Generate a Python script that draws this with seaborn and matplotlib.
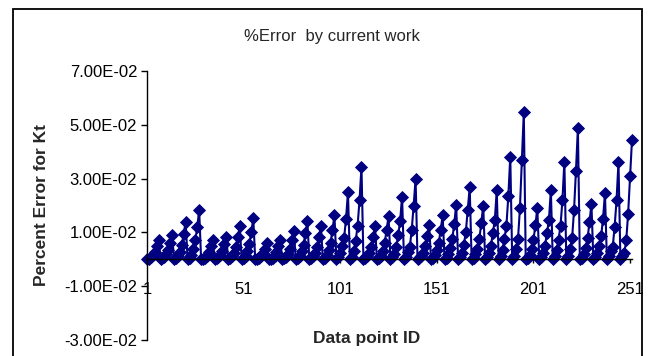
import matplotlib
matplotlib.use("Agg")
import matplotlib.pyplot as plt
import seaborn as sns
import numpy as np
import pandas as pd
from matplotlib.patches import Rectangle

# Percent error values, 36 cycles of 7 data points each
cycle_values = [
    [0, 0.0002, 0.0007, 0.0015, 0.0028, 0.0049, 0.0073],
    [0, 0.0003, 0.0008, 0.0018, 0.0034, 0.0060, 0.0090],
    [0, 0.0004, 0.0013, 0.0028, 0.0053, 0.0094, 0.0140],
    [0, 0.0005, 0.0016, 0.0037, 0.0070, 0.0120, 0.0183],
    [0, 0.0002, 0.0006, 0.0014, 0.0027, 0.0048, 0.0071],
    [0, 0.0003, 0.0008, 0.0017, 0.0032, 0.0056, 0.0084],
    [0, 0.0004, 0.0011, 0.0024, 0.0046, 0.0082, 0.0122],
    [0, 0.0005, 0.0014, 0.0030, 0.0058, 0.0102, 0.0152],
    [0, 0.0002, 0.0005, 0.0012, 0.0022, 0.0040, 0.0059],
    [0, 0.0002, 0.0006, 0.0014, 0.0027, 0.0048, 0.0071],
    [0, 0.0003, 0.0009, 0.0021, 0.0040, 0.0070, 0.0104],
    [0, 0.0004, 0.0013, 0.0029, 0.0054, 0.0096, 0.0143],
    [0, 0.0004, 0.0011, 0.0024, 0.0046, 0.0082, 0.0122],
    [0, 0.0005, 0.0015, 0.0033, 0.0062, 0.0110, 0.0164],
    [0, 0.0008, 0.0023, 0.0050, 0.0080, 0.0150, 0.0250],
    [0, 0.0010, 0.0031, 0.0069, 0.0125, 0.0222, 0.0343],
    [0, 0.0004, 0.0011, 0.0024, 0.0046, 0.0082, 0.0122],
    [0, 0.0005, 0.0014, 0.0032, 0.0061, 0.0108, 0.0161],
    [0, 0.0007, 0.0021, 0.0047, 0.0089, 0.0143, 0.0233],
    [0, 0.0009, 0.0027, 0.0044, 0.0110, 0.0200, 0.0298],
    [0, 0.0004, 0.0011, 0.0025, 0.0048, 0.0085, 0.0127],
    [0, 0.0005, 0.0015, 0.0033, 0.0062, 0.0109, 0.0163],
    [0, 0.0006, 0.0018, 0.0041, 0.0077, 0.0130, 0.0203],
    [0, 0.0008, 0.0024, 0.0054, 0.0102, 0.0185, 0.0268],
    [0, 0.0006, 0.0018, 0.0040, 0.0076, 0.0134, 0.0200],
    [0, 0.0008, 0.0023, 0.0051, 0.0098, 0.0145, 0.0257],
    [0, 0.0011, 0.0034, 0.0076, 0.0125, 0.0235, 0.0381],
    [0, 0.0014, 0.0040, 0.0075, 0.0190, 0.0370, 0.0546],
    [0, 0.0006, 0.0017, 0.0038, 0.0072, 0.0127, 0.0190],
    [0, 0.0008, 0.0023, 0.0051, 0.0098, 0.0145, 0.0257],
    [0, 0.0011, 0.0033, 0.0073, 0.0125, 0.0220, 0.0363],
    [0, 0.0013, 0.0040, 0.0078, 0.0183, 0.0330, 0.0488],
    [0, 0.0006, 0.0019, 0.0041, 0.0078, 0.0138, 0.0206],
    [0, 0.0007, 0.0022, 0.0049, 0.0085, 0.0150, 0.0246],
    [0, 0.0011, 0.0032, 0.0045, 0.0120, 0.0220, 0.0361],
    [0, 0.0013, 0.0022, 0.0070, 0.0170, 0.0310, 0.0445],
]
x_ticks = [1, 51, 101, 151, 201, 251]
y_ticks = [-0.03, -0.01, 0.01, 0.03, 0.05, 0.07]

title_text = "%Error  by current work"
x_label = "Data point ID"
y_label = "Percent Error for Kt"

errors = [v for row in cycle_values for v in row]
ids = list(range(1, len(errors) + 1))
df = pd.DataFrame({"id": ids, "err": errors})

sns.set_style("white")
plt.rcParams["font.family"] = ["Liberation Sans", "DejaVu Sans"]

W, H = 649, 356
fig = plt.figure(figsize=(W / 100, H / 100), dpi=100)
ax = fig.add_axes([147 / W, (H - 340) / H, (632 - 147) / W, (340 - 71) / H])

sns.lineplot(data=df, x="id", y="err", ax=ax, color="#000080",
             marker="D", markersize=5.8, markeredgecolor="#000080",
             markeredgewidth=0.6, linewidth=1.5, clip_on=False)

ax.set_xlim(1, 252)
ax.set_ylim(-0.03, 0.07)
ax.set_xticks(x_ticks)
ax.set_xticklabels([str(t) for t in x_ticks])
ax.set_yticks(y_ticks)
ax.set_yticklabels([f"{t:.2E}" for t in y_ticks])

for s in ["top", "right"]:
    ax.spines[s].set_visible(False)
ax.spines["bottom"].set_position(("data", 0))
ax.spines["left"].set_color("black")
ax.spines["bottom"].set_color("black")
ax.spines["left"].set_linewidth(1.0)
ax.spines["bottom"].set_linewidth(1.0)

ax.tick_params(axis="y", direction="out", length=4, width=1, pad=3,
               labelsize=12, colors="black", left=True)
ax.tick_params(axis="x", direction="out", length=3, width=1, pad=13,
               labelsize=12, colors="black", bottom=True)
ax.set_xlabel("")
ax.set_ylabel("")
ax.patch.set_alpha(0)

fig.text(332 / W, 1 - 37 / H, title_text, ha="center", va="center", fontsize=12)
fig.text(367 / W, 1 - 338 / H, x_label, ha="center", va="center",
         fontsize=12.5, fontweight="bold")
fig.text(42 / W, 1 - 205 / H, y_label, ha="center", va="center",
         fontsize=12.5, fontweight="bold", rotation=90)

fig.patches.append(Rectangle((13 / W, -0.1), (642 - 13) / W, (H - 9) / H + 0.1,
                             transform=fig.transFigure, fill=False,
                             edgecolor="black", linewidth=1.3))

fig.savefig("out.png", dpi=100)
